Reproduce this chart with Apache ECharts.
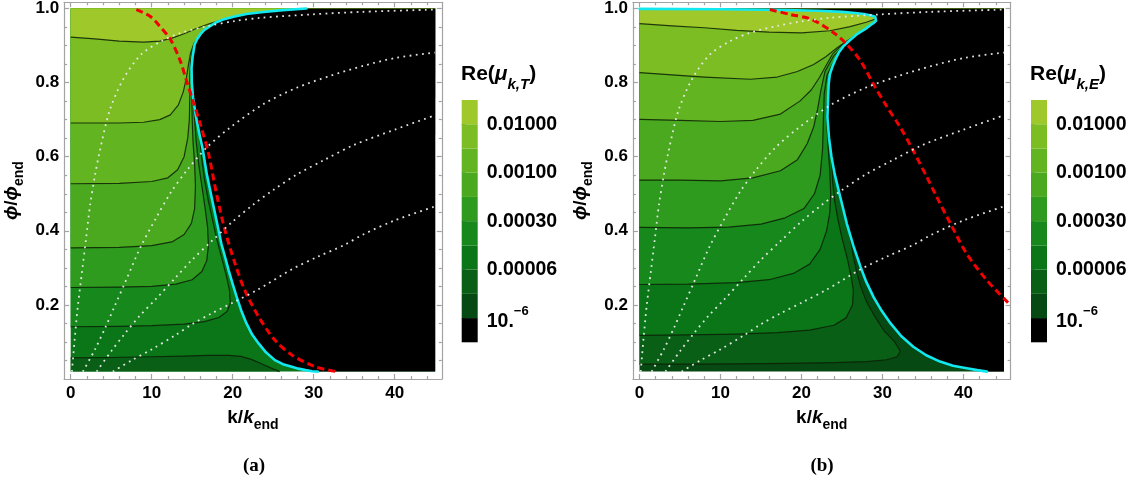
<!DOCTYPE html>
<html>
<head>
<meta charset="utf-8">
<script src="https://cdn.jsdelivr.net/npm/echarts@6/dist/echarts.min.js"></script>
<style>html,body{margin:0;padding:0;background:#fff}#c{width:1137px;height:484px}</style>
</head>
<body>
<div id="c"></div>
<script>
// ---------------- DATA ----------------
const kMajor = [0, 10, 20, 30, 40];
const kMinor = [2, 4, 6, 8, 12, 14, 16, 18, 22, 24, 26, 28, 32, 34, 36, 38, 42, 44];
const phiMajor = [0.2, 0.4, 0.6, 0.8, 1.0];
const phiMinor = [0.05, 0.1, 0.15, 0.25, 0.3, 0.35, 0.45, 0.5, 0.55, 0.65, 0.7, 0.75, 0.85, 0.9, 0.95];
const cbBounds = [1, 3, 5, 7, 9];
const cbLabels = ['{m|10.}{sup|−6}', '0.00006', '0.00030', '0.00100', '0.01000'];
// index 0 = black (lowest) ... 9 = lightest
const bandColors = ['#000000', '#064913', '#0a5f16', '#0a7618', '#17881c', '#2e9a1e', '#4ba920', '#63b421', '#7bbd23', '#9fc92b'];

// white dotted trajectories (same in both panels)
const dot1 = [[0.15,0.02],[0.5,0.11],[0.9,0.2],[1.4,0.29],[1.9,0.38],[2.4,0.47],[3.0,0.55],[3.6,0.616],[4.8,0.724],[6.5,0.81],[8.7,0.876],[11.2,0.912],[13.6,0.934],[17,0.953],[20.2,0.966],[23.5,0.975],[29.7,0.984],[35.9,0.991],[45,0.997]];
const dot2 = [[1.5,0.02],[3,0.08],[4.3,0.14],[5.3,0.19],[6.9,0.27],[8.6,0.355],[10.6,0.437],[12.4,0.505],[14.3,0.562],[16.8,0.625],[19.7,0.679],[23.8,0.742],[27.9,0.786],[32,0.818],[36.1,0.845],[40.2,0.867],[45,0.881]];
const dot3 = [[3.2,0.02],[5,0.075],[6.6,0.12],[8.5,0.17],[10.4,0.213],[13,0.275],[15,0.322],[17.4,0.372],[20,0.425],[22.5,0.47],[25,0.51],[28,0.553],[31.2,0.59],[35,0.632],[40,0.673],[45,0.712]];
const dot4 = [[5.2,0.02],[7.5,0.05],[10,0.08],[12.9,0.118],[15,0.148],[17.4,0.177],[20.1,0.207],[23,0.24],[27.3,0.296],[30.5,0.33],[33.8,0.362],[36.1,0.39],[40,0.428],[45,0.466]];

// panel (a): Re(mu_k,T)
const cyanA = [[29.1,1.0],[25.8,0.995],[23.5,0.99],[21.7,0.985],[20.1,0.978],[18.8,0.97],[17.9,0.962],[17.2,0.952],[16.5,0.942],[16.0,0.93],[15.6,0.917],[15.3,0.903],[15.05,0.87],[14.92,0.84],[14.95,0.80],[15.1,0.76],[15.45,0.71],[15.9,0.66],[16.3,0.62],[16.8,0.553],[17.4,0.49],[18.0,0.428],[18.6,0.365],[19.05,0.33],[19.5,0.293],[20.0,0.256],[20.5,0.221],[21.05,0.185],[21.7,0.15],[22.4,0.12],[23.2,0.096],[24.1,0.072],[25.2,0.051],[26.2,0.04],[27.3,0.033],[28.1,0.028],[29,0.024],[29.8,0.021],[30.5,0.02]];
const redA = [[8.1,0.997],[9.8,0.979],[11.0,0.952],[12.3,0.917],[13.5,0.86],[14.3,0.805],[15.1,0.75],[16.0,0.688],[17.0,0.61],[18.0,0.5],[19.05,0.401],[20.3,0.311],[21.5,0.239],[23.2,0.168],[25.2,0.105],[27.3,0.065],[30.2,0.033],[32.8,0.02]];
const contA1 = [[0,0.923],[3,0.918],[6,0.912],[9,0.909],[11,0.912],[12.5,0.92],[14,0.932],[15.5,0.946],[17,0.958],[18.8,0.97]];
const contA2 = [[0,0.691],[6,0.691],[9,0.693],[11,0.70],[12.3,0.713],[13.3,0.74],[13.9,0.775],[14.3,0.815],[14.55,0.85],[14.8,0.88],[15.2,0.905],[16.0,0.93]];
const contA3 = [[0,0.527],[6,0.528],[10,0.533],[12,0.543],[13.2,0.565],[14,0.6],[14.45,0.65],[14.65,0.7],[14.7,0.76],[14.7,0.82],[14.8,0.86],[15.0,0.885],[15.3,0.903]];
const contA4 = [[0,0.354],[6,0.355],[10,0.36],[12.5,0.37],[14,0.39],[14.9,0.42],[15.3,0.46],[15.4,0.52],[15.3,0.58],[15.1,0.64],[15.0,0.7],[14.95,0.76],[14.93,0.82]];
const contA5 = [[0,0.247],[6,0.248],[10,0.25],[13,0.256],[15,0.268],[16.2,0.29],[16.8,0.32],[17.0,0.36],[16.9,0.41],[16.6,0.46],[16.2,0.52],[15.8,0.58],[15.5,0.64],[15.3,0.7],[15.1,0.76]];
const contA6 = [[0,0.141],[6,0.142],[10,0.144],[14,0.148],[16.5,0.155],[18.3,0.166],[19.3,0.182],[19.7,0.205],[19.6,0.24],[19.2,0.28],[18.6,0.33],[18.0,0.38],[17.5,0.43],[17.0,0.48],[16.5,0.54],[16.15,0.6],[15.9,0.66]];
const contA7 = [[0,0.057],[5,0.058],[10,0.06],[14,0.062],[17,0.064],[19.5,0.064],[21,0.061],[22.3,0.053],[23.5,0.042],[24.7,0.03],[25.8,0.02]];

// panel (b): Re(mu_k,E)
const cyanB = [[0,0.999],[10,0.998],[18,0.996],[22,0.994],[25,0.991],[26.6,0.988],[27.7,0.985],[28.6,0.981],[29.1,0.978],[29.3,0.973],[29.2,0.967],[28.9,0.961],[28.5,0.955],[27.9,0.945],[27.3,0.937],[26.8,0.93],[26.0,0.915],[25.2,0.899],[24.6,0.881],[24.2,0.863],[23.8,0.842],[23.5,0.822],[23.35,0.795],[23.3,0.769],[23.2,0.706],[23.4,0.65],[23.7,0.6],[24.1,0.553],[24.8,0.49],[25.6,0.419],[26.4,0.36],[27.3,0.302],[28.0,0.262],[28.9,0.221],[29.9,0.184],[31.0,0.15],[32.3,0.116],[33.8,0.087],[35.4,0.064],[37.1,0.047],[38.7,0.036],[40.4,0.029],[41.7,0.024],[42.9,0.02]];
const redB = [[16.1,0.997],[18.6,0.984],[21.3,0.97],[24.0,0.934],[25.6,0.903],[27.3,0.858],[28.9,0.795],[30.6,0.733],[32.2,0.679],[33.8,0.616],[35.5,0.544],[36.5,0.5],[38.4,0.419],[40.4,0.338],[42.9,0.266],[45.6,0.204]];
const contB1 = [[0,0.959],[4,0.953],[8,0.948],[12,0.941],[16,0.936],[20,0.934],[23.5,0.94],[26,0.951],[28,0.963],[29.3,0.973]];
const contB2 = [[0,0.827],[4,0.821],[8,0.815],[13.7,0.809],[17,0.815],[19.5,0.83],[21.5,0.849],[23,0.87],[24.4,0.894],[25.6,0.912],[26.8,0.93]];
const contB3 = [[0,0.701],[5,0.698],[10,0.695],[14,0.698],[17.4,0.715],[19.8,0.75],[21.2,0.78],[22.2,0.813],[23,0.845],[23.8,0.876],[24.9,0.9],[26.0,0.915]];
const contB4 = [[0,0.537],[5,0.537],[10,0.535],[14,0.543],[17.4,0.562],[19.5,0.592],[20.7,0.635],[21.5,0.68],[22.0,0.73],[22.4,0.78],[22.9,0.83],[23.9,0.87],[25.2,0.899]];
const contB5 = [[0,0.409],[6,0.408],[11,0.41],[15,0.418],[18,0.435],[20.3,0.46],[21.6,0.5],[22.3,0.55],[22.6,0.62],[22.7,0.7],[22.8,0.77],[23.15,0.82],[23.7,0.845],[24.2,0.863]];
const contB6 = [[0,0.255],[6,0.256],[12,0.26],[16,0.268],[19,0.285],[21,0.31],[22.3,0.35],[23.1,0.4],[23.5,0.45],[23.6,0.5],[23.5,0.56],[23.3,0.62],[23.15,0.68],[23.1,0.73],[23.3,0.769]];
const contB7 = [[0,0.118],[6,0.119],[12,0.121],[17,0.125],[21,0.132],[24,0.145],[25.5,0.165],[26.3,0.2],[26.4,0.24],[26.1,0.28],[25.6,0.33],[25.0,0.38],[24.5,0.43],[24.1,0.48],[23.85,0.53],[23.7,0.6]];
const contB8 = [[0,0.04],[6,0.04],[12,0.041],[18,0.042],[24,0.044],[28,0.047],[30.5,0.052],[31.8,0.06],[32.2,0.075],[31.5,0.1],[30.2,0.13],[29.0,0.17],[28.0,0.21],[27.3,0.25],[26.8,0.29],[26.4,0.33],[26.1,0.37],[25.85,0.40],[25.6,0.419]];

// ---------------- STYLE / LAYOUT ----------------
const FF = '"Liberation Sans", Arial, "DejaVu Sans", sans-serif';
const FRAME = '#a3a3a3';
const X_MIN = -0.815, X_MAX = 45.815, Y_MIN = 0, Y_MAX = 1.0169;
const K_LO = 0, K_HI = 45, P_LO = 0.02, P_HI = 1.0;
const CONTOUR = 'rgba(12,32,6,0.85)';
const CYAN = '#12e8f0';

const chart = echarts.init(document.getElementById('c'), null, {renderer: 'canvas'});

const grids = [
  {left: 64.1, top: 1, width: 377.7, height: 378},
  {left: 632.9, top: 1, width: 377.7, height: 378},
  {left: 461.7, top: 100, width: 16, height: 242.3},
  {left: 1031, top: 100, width: 16, height: 242.3}
];

const nameRich = {
  a: {fontFamily: FF, fontWeight: 'bold', fontSize: 19, lineHeight: 24, verticalAlign: 'top', color: '#000'},
  b: {fontFamily: FF, fontWeight: 'bold', fontStyle: 'italic', fontSize: 19, lineHeight: 24, verticalAlign: 'top', color: '#000'},
  s: {fontFamily: FF, fontWeight: 'bold', fontSize: 14, lineHeight: 14, verticalAlign: 'bottom', color: '#000'}
};

const xAxes = [], yAxes = [];
function tickAxis(dim, g, pos, vals, len, extra) {
  const ls = {color: FRAME, width: 1.2};
  const a = Object.assign({
    gridIndex: g, type: 'value', position: pos,
    min: dim === 'x' ? X_MIN : Y_MIN, max: dim === 'x' ? X_MAX : Y_MAX,
    axisLine: {show: false, onZero: false, lineStyle: ls},
    axisTick: {show: true, inside: true, length: len, customValues: vals, lineStyle: ls},
    axisLabel: {show: false},
    splitLine: {show: false},
    z: 50
  }, extra || {});
  (dim === 'x' ? xAxes : yAxes).push(a);
}
for (let p = 0; p < 2; p++) {
  const ls = {color: FRAME, width: 1.2};
  tickAxis('x', p, 'bottom', kMajor, 5, {
    axisLine: {show: true, onZero: false, lineStyle: ls},
    axisLabel: {show: true, customValues: kMajor, margin: 6, color: '#000', fontFamily: FF, fontWeight: 'bold', fontSize: 17, formatter: function (v) { return String(v); }},
    name: '{a|k/}{b|k}{s|end}', nameLocation: 'middle', nameGap: 29, nameTextStyle: {rich: nameRich}
  });
  tickAxis('x', p, 'bottom', kMinor, 3);
  tickAxis('x', p, 'top', kMajor, 5, {axisLine: {show: true, onZero: false, lineStyle: ls}});
  tickAxis('x', p, 'top', kMinor, 3);
  tickAxis('y', p, 'left', phiMajor, 5, {
    axisLine: {show: true, onZero: false, lineStyle: ls},
    axisLabel: {show: true, customValues: phiMajor, margin: 5, color: '#000', fontFamily: FF, fontWeight: 'bold', fontSize: 17, formatter: function (v) { return v.toFixed(1); }},
    name: '{b|ϕ}{a|/}{b|ϕ}{s|end}', nameLocation: 'middle', nameRotate: 90, nameGap: 38, nameTextStyle: {rich: nameRich}
  });
  tickAxis('y', p, 'left', phiMinor, 3);
  tickAxis('y', p, 'right', phiMajor, 5, {axisLine: {show: true, onZero: false, lineStyle: ls}});
  tickAxis('y', p, 'right', phiMinor, 3);
}
for (let p = 0; p < 2; p++) {
  xAxes.push({gridIndex: 2 + p, type: 'value', min: 0, max: 1, show: false});
  yAxes.push({
    gridIndex: 2 + p, type: 'value', position: 'right', min: 0, max: 10,
    axisLine: {show: false}, splitLine: {show: false},
    axisTick: {show: true, inside: false, length: 4, customValues: cbBounds, lineStyle: {color: '#8a8a8a', width: 1}},
    axisLabel: {
      show: true, customValues: cbBounds, margin: 9, color: '#000', fontFamily: FF, fontWeight: 'bold', fontSize: 19.5,
      formatter: function (v) { return cbLabels[cbBounds.indexOf(Math.round(v))] || ''; },
      rich: {
        m: {fontFamily: FF, fontWeight: 'bold', fontSize: 19.5, lineHeight: 27, verticalAlign: 'bottom', color: '#000'},
        sup: {fontFamily: FF, fontWeight: 'bold', fontSize: 13, lineHeight: 10, verticalAlign: 'top', color: '#000'}
      }
    }
  });
}

// ---------------- SERIES ----------------
const series = [];
let zc = 2;
function poly(p, pts, color) {
  series.push({
    type: 'custom', xAxisIndex: p * 4, yAxisIndex: p * 4, clip: true, silent: true, z: zc++,
    data: [[pts[0][0], pts[0][1]]],
    renderItem: function (params, api) {
      return {type: 'polygon', shape: {points: pts.map(function (q) { return api.coord(q); })}, style: {fill: color}};
    }
  });
}
function line(p, pts, color, width, type, smooth, cap) {
  series.push({
    type: 'line', xAxisIndex: p * 4, yAxisIndex: p * 4, data: pts, showSymbol: false, symbol: 'none',
    smooth: smooth || false, clip: true, silent: true, z: zc++,
    lineStyle: {color: color, width: width, type: type || 'solid', cap: cap || 'butt', join: 'round'}
  });
}
function band(c) { return bandColors[10 - c]; }
function upperRegion(cont) {
  const last = cont[cont.length - 1];
  return [[K_LO, P_HI]].concat(cont, [[K_HI, last[1]], [K_HI, P_HI]]);
}
const rectAll = [[K_LO, P_LO], [K_HI, P_LO], [K_HI, P_HI], [K_LO, P_HI]];

// panel a
poly(0, rectAll, band(7));
poly(0, [[K_LO, P_LO]].concat(contA7), band(8));
[[contA6, 6], [contA5, 5], [contA4, 4], [contA3, 3], [contA2, 2], [contA1, 1]].forEach(function (e) { poly(0, upperRegion(e[0]), band(e[1])); });
[contA1, contA2, contA3, contA4, contA5, contA6, contA7].forEach(function (c) { line(0, c, CONTOUR, 1.2); });
poly(0, cyanA.concat([[K_HI, P_LO], [K_HI, P_HI]]), '#000000');
line(0, cyanA, CYAN, 2.6, 'solid', false, 'round');
line(0, redA, '#f00000', 3, [7, 4], 0.3);
[dot1, dot2, dot3, dot4].forEach(function (d) { line(0, d, 'rgba(235,235,235,0.95)', 1.8, [1.8, 4.4], 0.3); });

// panel b
poly(1, rectAll, band(9));
[[contB8, 8], [contB7, 7], [contB6, 6], [contB5, 5], [contB4, 4], [contB3, 3], [contB2, 2], [contB1, 1]].forEach(function (e) { poly(1, upperRegion(e[0]), band(e[1])); });
[contB1, contB2, contB3, contB4, contB5, contB6, contB7, contB8].forEach(function (c) { line(1, c, CONTOUR, 1.2); });
poly(1, [[K_LO, P_HI]].concat(cyanB, [[K_HI, P_LO], [K_HI, P_HI]]), '#000000');
line(1, cyanB, CYAN, 2.6, 'solid', false, 'round');
line(1, redB, '#f00000', 3, [7, 4], 0.3);
[dot1, dot2, dot3, dot4].forEach(function (d) { line(1, d, 'rgba(235,235,235,0.95)', 1.8, [1.8, 4.4], 0.3); });

// colorbars
for (let p = 0; p < 2; p++) {
  series.push({
    type: 'custom', xAxisIndex: 8 + p, yAxisIndex: 8 + p, silent: true, z: zc++,
    data: bandColors.map(function (c, i) { return [0.5, i + 0.5]; }),
    renderItem: function (params, api) {
      const i = params.dataIndex;
      const a = api.coord([0, i]), b = api.coord([1, i + 1]);
      return {type: 'rect', shape: {x: a[0], y: b[1], width: b[0] - a[0], height: a[1] - b[1]}, style: {fill: bandColors[i]}};
    }
  });
}

const titleRich = {
  n: {fontFamily: FF, fontWeight: 'bold', fontSize: 21, lineHeight: 28, verticalAlign: 'top', fill: '#000'},
  i: {fontFamily: FF, fontWeight: 'bold', fontStyle: 'italic', fontSize: 21, lineHeight: 28, verticalAlign: 'top', fill: '#000'},
  s: {fontFamily: FF, fontWeight: 'bold', fontStyle: 'italic', fontSize: 15, lineHeight: 15, verticalAlign: 'bottom', fill: '#000'}
};

chart.setOption({
  animation: false,
  grid: grids,
  xAxis: xAxes,
  yAxis: yAxes,
  series: series,
  graphic: [
    {type: 'text', x: 461, y: 64, style: {text: '{n|Re(}{i|μ}{s|k,T}{n|)}', rich: titleRich}},
    {type: 'text', x: 1030, y: 64, style: {text: '{n|Re(}{i|μ}{s|k,E}{n|)}', rich: titleRich}},
    {type: 'text', x: 254, y: 466, style: {text: '(a)', font: 'bold 19px "Liberation Serif", "DejaVu Serif", serif', fill: '#000', align: 'center', verticalAlign: 'middle', textAlign: 'center', textVerticalAlign: 'middle'}},
    {type: 'text', x: 822, y: 466, style: {text: '(b)', font: 'bold 19px "Liberation Serif", "DejaVu Serif", serif', fill: '#000', align: 'center', verticalAlign: 'middle', textAlign: 'center', textVerticalAlign: 'middle'}}
  ]
});
</script>
</body>
</html>
